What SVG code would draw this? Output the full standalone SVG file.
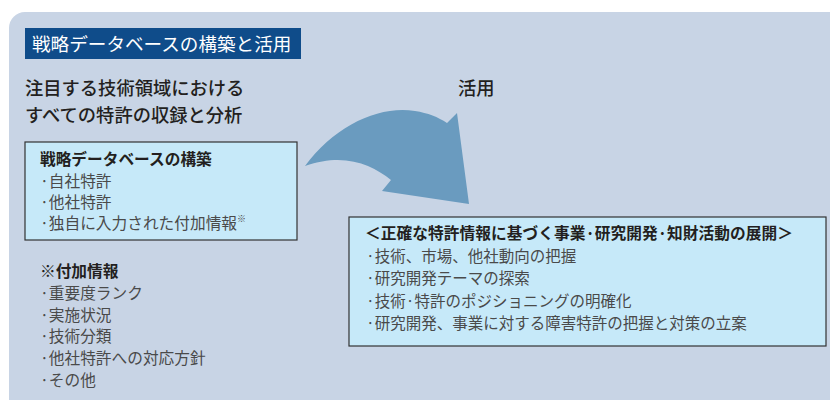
<svg xmlns="http://www.w3.org/2000/svg" width="830" height="400" viewBox="0 0 830 400">
<style>
text{font-family:"Noto Sans CJK JP","Noto Sans",sans-serif;fill:#333}
.title{fill:#fff;font-size:18.6px}
.head{font-size:18.3px;font-weight:500;fill:#231f20}
.bh{font-size:15.7px;font-weight:700;fill:#231f20}
.li{font-size:15.7px;fill:#4a4a4a}
.lr{font-size:15.5px;fill:#4a4a4a}
.box{fill:#c6e9f9;stroke:#333;stroke-width:1.2}
</style>
<rect x="9" y="12" width="860" height="420" rx="16" fill="#c8d4e5"/>
<g id="title">
<rect x="25" y="28" width="276" height="31" fill="#0f4c8a"/>
<text class="title" x="32" y="51">戦略データベースの構築と活用</text>
</g>
<g id="heading-left">
<text class="head" x="25" y="95">注目する技術領域における</text>
<text class="head" x="25" y="122">すべての特許の収録と分析</text>
</g>
<g id="heading-right">
<text class="head" x="458" y="95">活用</text>
</g>
<g id="db-box">
<rect class="box" x="25" y="142" width="272" height="98"/>
<text class="bh" x="40" y="165">戦略データベースの構築</text>
<text class="li" x="40" y="187">·自社特許</text>
<text class="li" x="40" y="208">·他社特許</text>
<text class="li" x="40" y="229">·独自に入力された付加情報<tspan font-size="9" dy="-7">※</tspan></text>
</g>
<g id="extra-info">
<text class="bh" x="40" y="277">※付加情報</text>
<text class="li" x="40" y="299">·重要度ランク</text>
<text class="li" x="40" y="321">·実施状況</text>
<text class="li" x="40" y="342">·技術分類</text>
<text class="li" x="40" y="364">·他社特許への対応方針</text>
<text class="li" x="40" y="386">·その他</text>
</g>
<g id="use-box">
<rect class="box" x="349" y="217" width="477" height="129"/>
<text class="bh" x="365" y="239" textLength="428" lengthAdjust="spacing">＜正確な特許情報に基づく事業·研究開発·知財活動の展開＞</text>
<text class="lr" x="366" y="262">·技術、市場、他社動向の把握</text>
<text class="lr" x="366" y="284">·研究開発テーマの探索</text>
<text class="lr" x="366" y="307">·技術·特許のポジショニングの明確化</text>
<text class="lr" x="366" y="329">·研究開発、事業に対する障害特許の把握と対策の立案</text>
</g>
<g id="connectors">
<path d="M305,166 C335,125 380,105 415,111 C428,113 438,117 447,123 L457,113 L469,204 L382,191 L391,180 C372,165 345,152 305,166 Z" fill="#6a9bbf"/>
</g>
</svg>
